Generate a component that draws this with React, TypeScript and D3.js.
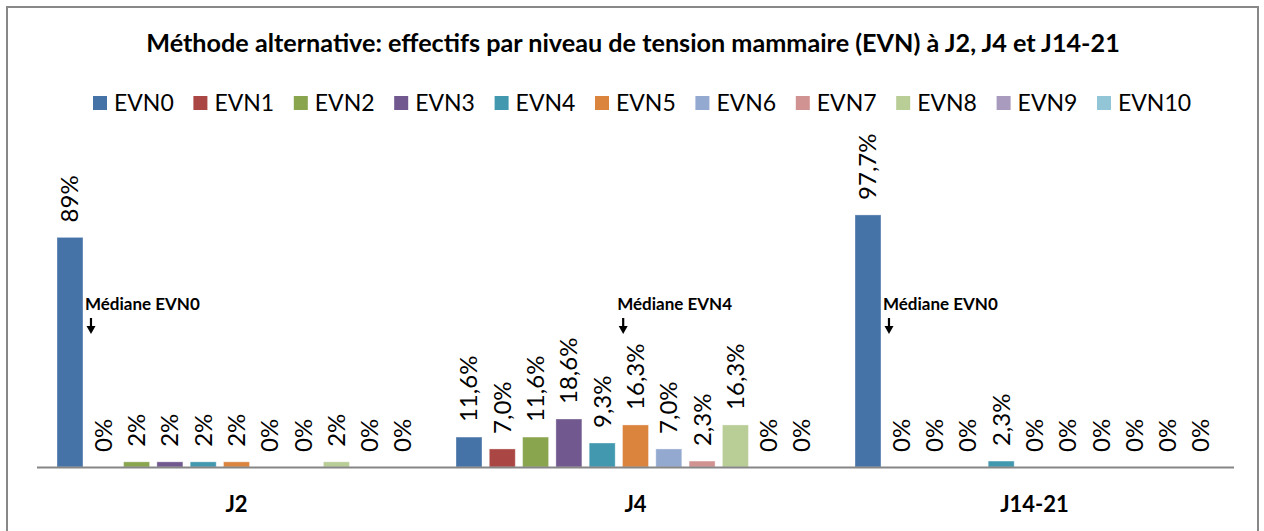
import React from 'react';
import * as d3 from 'd3';

// data
const categories = ['J2', 'J4', 'J14-21'];
const series = ['EVN0', 'EVN1', 'EVN2', 'EVN3', 'EVN4', 'EVN5', 'EVN6', 'EVN7', 'EVN8', 'EVN9', 'EVN10'];
const colors = ['#4572A7', '#AA4643', '#89A54E', '#71588F', '#4198AF', '#DB843D', '#93A9CF', '#D19392', '#B9CD96', '#A99BBD', '#92C5D6'];

const valuesJ2 = [89, 0, 2, 2, 2, 2, 0, 0, 2, 0, 0];
const valuesJ4 = [11.6, 7.0, 11.6, 18.6, 9.3, 16.3, 7.0, 2.3, 16.3, 0, 0];
const valuesJ14 = [97.7, 0, 0, 0, 2.3, 0, 0, 0, 0, 0, 0];

const labelsJ2 = ['89%', '0%', '2%', '2%', '2%', '2%', '0%', '0%', '2%', '0%', '0%'];
const labelsJ4 = ['11,6%', '7,0%', '11,6%', '18,6%', '9,3%', '16,3%', '7,0%', '2,3%', '16,3%', '0%', '0%'];
const labelsJ14 = ['97,7%', '0%', '0%', '0%', '2,3%', '0%', '0%', '0%', '0%', '0%', '0%'];

// "Médiane" notes: category + series they point at
const medianNotes = [
  { cat: 'J2', serie: 0, text: 'Médiane EVN0' },
  { cat: 'J4', serie: 4, text: 'Médiane EVN4' },
  { cat: 'J14-21', serie: 0, text: 'Médiane EVN0' },
];

const title = 'Méthode alternative: effectifs par niveau de tension mammaire (EVN) à J2, J4 et J14-21';

const W = 1264, H = 531;
const FONT = 'Lato, Carlito, Calibri, "Open Sans", sans-serif';

export default function App() {
  const values = [valuesJ2, valuesJ4, valuesJ14];
  const labels = [labelsJ2, labelsJ4, labelsJ14];

  const plot = { left: 37, right: 1234, top: 209, bottom: 467 };

  const x0 = d3.scaleBand().domain(categories).range([plot.left, plot.right]).padding(0);
  const x1 = d3.scaleBand()
    .domain(series)
    .range([20, x0.bandwidth() - 20])
    .paddingInner(0.22)
    .paddingOuter(0);
  const y = d3.scaleLinear().domain([0, 100]).range([plot.bottom, plot.top]);

  const legendX = d3.scalePoint().domain(series).range([93, 1097]);

  const bw = x1.bandwidth();

  return (
    <svg width={W} height={H} style={{ position: 'absolute', left: 0, top: 0, background: '#fff' }} fontFamily={FONT}>
      <rect x={0} y={0} width={W} height={H} fill="#fff" />
      {/* chart frame */}
      <path d={`M7,${H} V7 H1258 V${H}`} fill="none" stroke="#888" strokeWidth={2} />

      <text x={633} y={52} textAnchor="middle" fontSize={25.2} fontWeight="bold" fill="#000">{title}</text>

      {/* legend */}
      {series.map((s, i) => (
        <g key={s} transform={`translate(${legendX(s)},0)`}>
          <rect x={0} y={96} width={14} height={14} fill={colors[i]} />
          <text x={21} y={111} fontSize={23} fill="#000">{s}</text>
        </g>
      ))}

      {/* bars */}
      {categories.map((c, ci) => (
        <g key={c} transform={`translate(${x0(c)},0)`}>
          {series.map((s, si) => {
            const v = values[ci][si];
            const bx = x1(s)!;
            return (
              <g key={s}>
                {v > 0 && (
                  <rect x={bx} y={y(v)} width={bw} height={y(0) - y(v)} fill={colors[si]} stroke="#fff" strokeOpacity={0.35} strokeWidth={1} />
                )}
                <text
                  transform={`translate(${bx + bw / 2},${y(v) - 15}) rotate(-90)`}
                  dy="0.35em"
                  fontSize={24}
                  fill="#000"
                >
                  {labels[ci][si]}
                </text>
              </g>
            );
          })}
          <text x={x0.bandwidth() / 2} y={512} textAnchor="middle" fontSize={22} fontWeight="bold" fill="#000">{c}</text>
        </g>
      ))}

      {/* category axis */}
      <line x1={plot.left} x2={plot.right} y1={plot.bottom + 0.5} y2={plot.bottom + 0.5} stroke="#868686" strokeWidth={2} />

      {/* median notes */}
      {medianNotes.map((m, i) => {
        const ax = x0(m.cat)! + x1(series[m.serie])! + bw + 2;
        return (
          <g key={i} transform={`translate(${ax},0)`}>
            <text x={0} y={310} fontSize={17} fontWeight="bold" fill="#000">{m.text}</text>
            <line x1={6} x2={6} y1={318} y2={328} stroke="#000" strokeWidth={2.2} />
            <path d="M1.5,326 L10.5,326 L6,334 Z" fill="#000" />
          </g>
        );
      })}
    </svg>
  );
}
